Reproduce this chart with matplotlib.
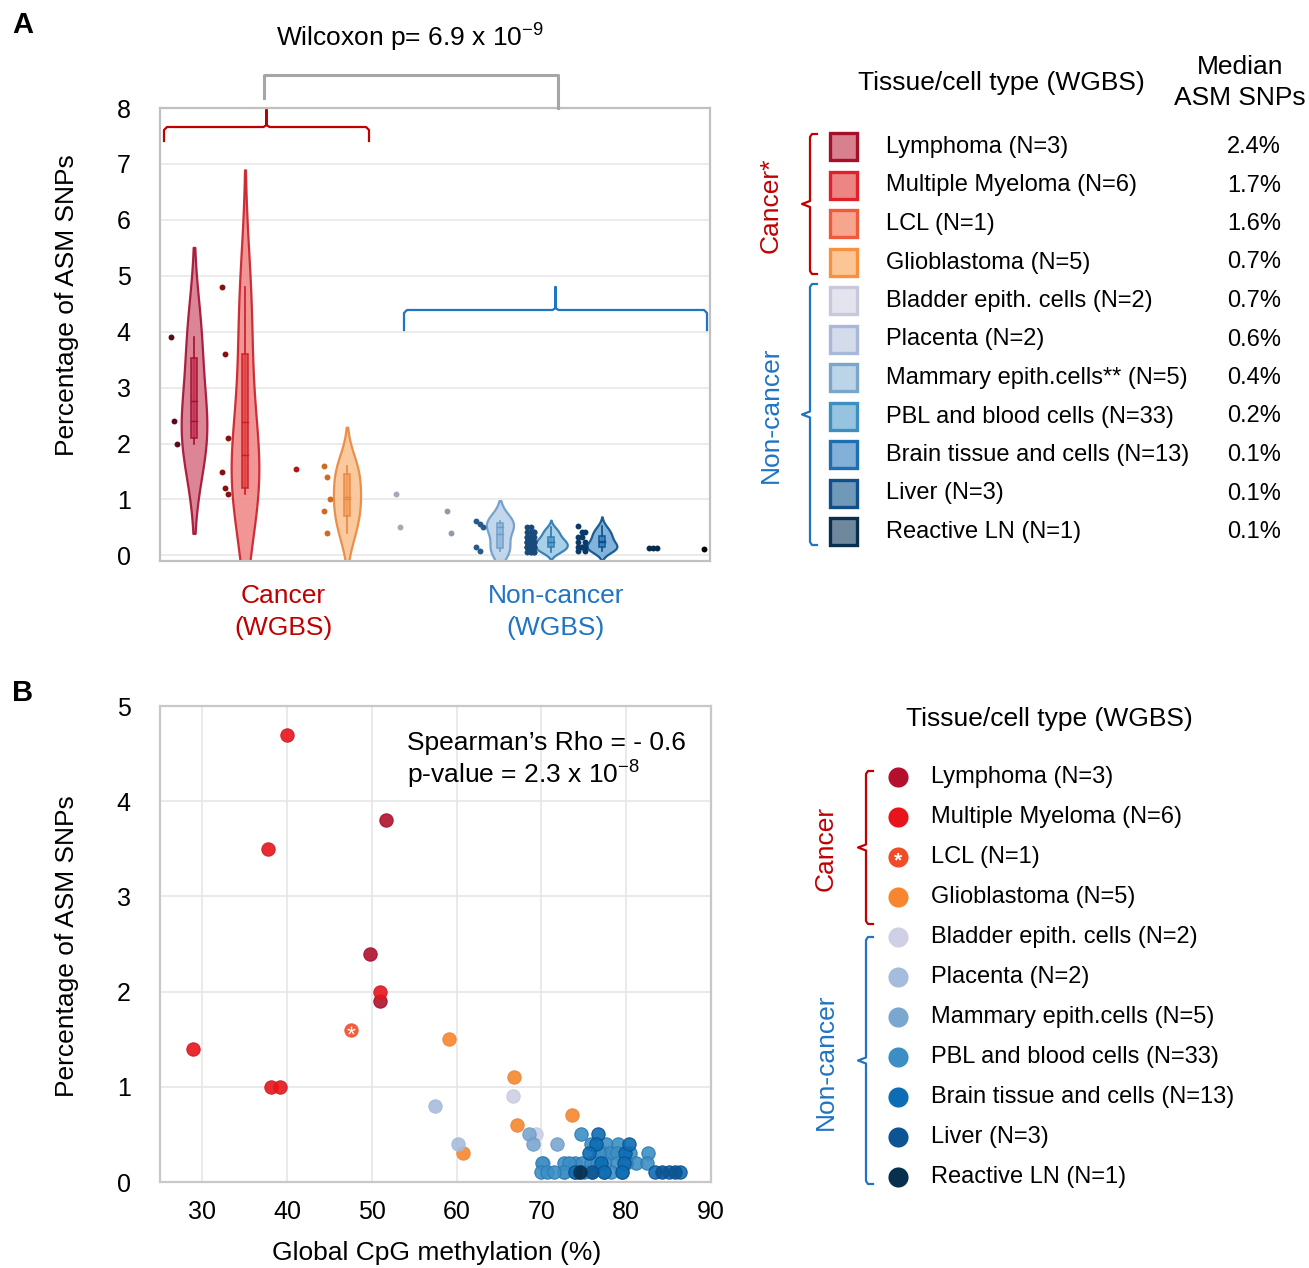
import numpy as np
import matplotlib
matplotlib.use("Agg")
import matplotlib.pyplot as plt
from matplotlib.patches import Rectangle

plt.rcParams["font.family"] = ["Liberation Sans", "DejaVu Sans"]
plt.rcParams["mathtext.fontset"] = "custom"
plt.rcParams["mathtext.rm"] = "Liberation Sans"
plt.rcParams["mathtext.default"] = "regular"

W, H = 1309, 1268

# ---- data -----------------------------------------------------------------
groups = ["Lymphoma", "Multiple Myeloma", "LCL", "Glioblastoma",
          "Bladder epith. cells", "Placenta", "Mammary epith.cells",
          "PBL and blood cells", "Brain tissue and cells", "Liver", "Reactive LN"]
n_samples = [3, 6, 1, 5, 2, 2, 5, 33, 13, 3, 1]
median_asm = ["2.4%", "1.7%", "1.6%", "0.7%", "0.7%", "0.6%", "0.4%",
              "0.2%", "0.1%", "0.1%", "0.1%"]

# panel A: % ASM SNPs per sample
asm_lymphoma = [3.9, 2.4, 2.0]
asm_myeloma = [4.8, 3.6, 2.1, 1.5, 1.2, 1.1]
asm_lcl = [1.55]
asm_glio = [1.6, 1.4, 1.0, 0.8, 0.4]
asm_bladder = [1.1, 0.5]
asm_placenta = [0.8, 0.4]
asm_mammary = [0.62, 0.56, 0.5, 0.15, 0.08]
asm_pbl = [0.5, 0.5, 0.42, 0.42, 0.42, 0.42, 0.33, 0.33, 0.33, 0.33, 0.33,
           0.24, 0.24, 0.24, 0.24, 0.24, 0.24, 0.24, 0.24,
           0.15, 0.15, 0.15, 0.15, 0.15, 0.15, 0.15, 0.15, 0.15,
           0.06, 0.06, 0.06, 0.06, 0.06]
asm_brain = [0.52, 0.42, 0.42, 0.33, 0.33, 0.24, 0.24, 0.15, 0.15, 0.15, 0.15, 0.08, 0.08]
asm_liver = [0.13, 0.13, 0.13]
asm_reactive = [0.11]

# panel B: global CpG methylation (%) vs % ASM SNPs
meth_lymphoma = [51.7, 49.8, 51.0]
pct_lymphoma = [3.8, 2.4, 1.9]
meth_myeloma = [40.0, 37.7, 50.9, 28.9, 38.1, 39.1]
pct_myeloma = [4.7, 3.5, 2.0, 1.4, 1.0, 1.0]
meth_lcl = [47.5]
pct_lcl = [1.6]
meth_glio = [59.1, 66.8, 67.1, 73.6, 60.8]
pct_glio = [1.5, 1.1, 0.6, 0.7, 0.3]
meth_bladder = [66.6, 69.4]
pct_bladder = [0.9, 0.5]
meth_placenta = [57.4, 60.2]
pct_placenta = [0.8, 0.4]
meth_mammary = [68.5, 69.0, 71.8, 70.2, 72.7]
pct_mammary = [0.5, 0.4, 0.4, 0.2, 0.1]
meth_pbl = [74.7, 75.9, 77.6, 79.0, 77.3, 78.1, 78.9, 82.6, 80.5, 76.8,
            70.1, 72.7, 74.0, 74.8, 75.8, 77.5, 78.9, 81.1, 82.5, 73.2, 76.5, 80.0,
            69.9, 70.7, 72.7, 73.9, 75.0, 76.0, 77.4, 79.5, 71.5, 74.4, 78.2]
pct_pbl = [0.5, 0.4, 0.4, 0.4, 0.3, 0.3, 0.3, 0.3, 0.3, 0.3,
           0.2, 0.2, 0.2, 0.2, 0.2, 0.2, 0.2, 0.2, 0.2, 0.2, 0.2, 0.2,
           0.1, 0.1, 0.1, 0.1, 0.1, 0.1, 0.1, 0.1, 0.1, 0.1, 0.1]
meth_brain = [76.7, 76.4, 79.9, 75.6, 79.7, 77.0, 83.4, 85.0, 86.4, 79.5, 77.4, 73.9, 80.3]
pct_brain = [0.5, 0.4, 0.3, 0.3, 0.2, 0.2, 0.1, 0.1, 0.1, 0.1, 0.1, 0.1, 0.4]
meth_liver = [84.2, 85.8, 76.0]
pct_liver = [0.1, 0.1, 0.1]
meth_reactive = [74.6]
pct_reactive = [0.1]

asm_a = [asm_lymphoma, asm_myeloma, asm_lcl, asm_glio, asm_bladder, asm_placenta,
         asm_mammary, asm_pbl, asm_brain, asm_liver, asm_reactive]
meth_b = [meth_lymphoma, meth_myeloma, meth_lcl, meth_glio, meth_bladder, meth_placenta,
          meth_mammary, meth_pbl, meth_brain, meth_liver, meth_reactive]
pct_b = [pct_lymphoma, pct_myeloma, pct_lcl, pct_glio, pct_bladder, pct_placenta,
         pct_mammary, pct_pbl, pct_brain, pct_liver, pct_reactive]

# ---- styles ---------------------------------------------------------------
RED, BLUE = "#c00000", "#1f74c4"
vio_fill = ["#d9788c", "#f08a8a", "#f8a590", "#fac394", "#e4e4ef", "#d4dcec",
            "#bcd3ea", "#9fcbe5", "#74abd6", "#7098b8", "#70889e"]
vio_edge = ["#a01030", "#c81e28", "#f05a3a", "#e8873e", "#c8c8dc", "#a8b8d8",
            "#6b9bc8", "#2d78b0", "#0b4f8c", "#10508a", "#08304e"]
box_fill = ["#c83a58", "#e84848", "#f07050", "#f5a060", "#c8c8dc", "#a8b8d8",
            "#94bade", "#5aa0d0", "#3a86c4", "#10508a", "#08304e"]
dot_col = ["#5a0a18", "#8a1010", "#b01818", "#d06a20", "#a8a8b8", "#909aac",
           "#2a5a8a", "#1a4a7a", "#0a3a6a", "#0a2a4a", "#000000"]
sq_fill = ["#d9808f", "#ee8585", "#f8a590", "#fcc595", "#e4e4ef", "#d4dcec",
           "#bcd4e8", "#96c4e0", "#82b0d8", "#7098b8", "#70889e"]
sq_edge = ["#a50f28", "#e0202a", "#f05a3a", "#f89040", "#c8c8dc", "#a8b8d8",
           "#7aa6cc", "#3d8fc0", "#1f6fb0", "#10508a", "#08304e"]
pt_col = ["#b2102c", "#e8141c", "#f04c28", "#f7862e", "#cfcfe6", "#a6bcdd",
          "#7aa7cf", "#3b8fc5", "#0c6db4", "#0c5494", "#072f4e"]

FS = 17      # legend entries
FL = 19      # labels, headers
FT = 18      # tick labels

fig = plt.figure(figsize=(W / 100, H / 100), dpi=100)
fig.patch.set_facecolor("white")


def px_axes(l, t, r, b):
    return fig.add_axes([l / W, 1 - b / H, (r - l) / W, (b - t) / H])


def kde(vals):
    v = np.asarray(vals, float)
    bw = v.std(ddof=1) * len(v) ** (-1 / 5)
    grid = np.linspace(v.min() - 2 * bw, v.max() + 2 * bw, 300)
    dens = np.exp(-0.5 * ((grid[:, None] - v[None, :]) / bw) ** 2).sum(1)
    return grid, dens / dens.max()


# ---- panel A --------------------------------------------------------------
axA = px_axes(160, 108, 710, 561)
axA.set_xlim(-0.667, 10.12)
axA.set_ylim(-0.1, 8)
axA.set_yticks(range(0, 9))
axA.set_xticks([])
axA.yaxis.grid(True, color="#e8e8e8", lw=1.2)
axA.set_axisbelow(True)
axA.tick_params(axis="y", length=0, pad=21, labelsize=FT)
for s in axA.spines.values():
    s.set_color("#c0c0c0")
    s.set_linewidth(1.6)

for i, vals in enumerate(asm_a):
    v = np.asarray(vals, float)
    has_violin = len(v) >= 3 and v.std() > 0
    if has_violin:
        g, d = kde(v)
        hw = (0.22 + 0.02 * np.log2(len(v))) * d
        axA.fill_betweenx(g, i - hw, i + hw, facecolor=vio_fill[i], edgecolor=vio_edge[i],
                          lw=1.6, alpha=0.9, zorder=2)
        q1, med, q3 = np.percentile(v, [25, 50, 75], method="hazen")
        axA.plot([i, i], [v.min(), v.max()], color=vio_edge[i], lw=1.2, zorder=3)
        axA.add_patch(Rectangle((i - 0.065, q1), 0.13, q3 - q1, facecolor=box_fill[i],
                                edgecolor=vio_edge[i], lw=1.2, alpha=0.85, zorder=4))
        axA.plot([i - 0.065, i + 0.065], [med, med], color=vio_edge[i], lw=1.0, zorder=5)
        axA.plot([i - 0.065, i + 0.065], [v.mean()] * 2, color=vio_edge[i], lw=1.0, zorder=5)
        xs = i - 0.4 + 0.06 * (np.arange(len(v)) % 3 - 1)
    else:
        xs = i + 0.08 * (np.arange(len(v)) - (len(v) - 1) / 2)
    axA.scatter(xs, v, s=18, color=dot_col[i], zorder=6, lw=0)

# ---- panel B --------------------------------------------------------------
axB = px_axes(160, 706, 711, 1182)
axB.set_xlim(25, 90)
axB.set_ylim(0.02, 5.0)
axB.set_xticks(range(30, 91, 10))
axB.set_yticks(range(0, 6))
axB.grid(True, color="#e6e6e6", lw=1.2)
axB.set_axisbelow(True)
axB.tick_params(axis="y", length=0, pad=21, labelsize=FT)
axB.tick_params(axis="x", length=0, pad=13, labelsize=FT)
for s in axB.spines.values():
    s.set_color("#c8c8c8")
    s.set_linewidth(1.6)

for i in range(len(groups)):
    axB.scatter(meth_b[i], pct_b[i], s=92, color=pt_col[i], alpha=0.9,
                edgecolors=vio_edge[i], linewidths=0.8, zorder=3 + i * 0.01)
axB.scatter(meth_lcl, pct_lcl, s=34, marker="$*$", color="white", lw=0, zorder=4)

# ---- overlay (pixel coords) ----------------------------------------------
ov = fig.add_axes([0, 0, 1, 1])
ov.set_xlim(0, W)
ov.set_ylim(H, 0)
ov.axis("off")

ov.text(12, 25, "A", fontsize=21, fontweight="bold", va="center")
ov.text(12, 693, "B", fontsize=21, fontweight="bold", va="center")

ov.text(67, 305, "Percentage of ASM SNPs", fontsize=FL, rotation=90, ha="center", va="center")
ov.text(67, 946, "Percentage of ASM SNPs", fontsize=FL, rotation=90, ha="center", va="center")
ov.text(437, 1253, "Global CpG methylation (%)", fontsize=FL, ha="center", va="center")
ov.text(407, 743, "Spearman\u2019s Rho = - 0.6", fontsize=FL, ha="left", va="center")
ov.text(407, 775, "p-value = 2.3 x 10$^{-8}$", fontsize=FL, ha="left", va="center")

ov.text(410, 38, "Wilcoxon p= 6.9 x 10$^{-9}$", fontsize=FL, ha="center", va="center")
ov.plot([264, 264, 558, 558], [98, 75, 75, 108], color="#a6a6a6", lw=2.2)


def hbrace(x0, x1, y, color, foot=14, notch=17):
    xm = (x0 + x1) / 2
    ov.plot([x0, x0, x0 + 3, xm - 3, xm, xm, xm, xm + 3, x1 - 3, x1, x1],
            [y + foot, y + 3, y, y, y - 2, y - notch, y - 2, y, y, y + 3, y + foot],
            color=color, lw=1.6)


def vbrace(x, y0, y1, color, arm=7, notch=8):
    ym = (y0 + y1) / 2
    ov.plot([x + arm, x + 2, x, x, x - notch, x, x, x + 2, x + arm],
            [y0, y0, y0 + 3, ym - 3, ym, ym + 3, y1 - 3, y1, y1],
            color=color, lw=1.6)


hbrace(164, 369, 127, RED)
hbrace(404, 707, 310, BLUE, foot=20, notch=23)

for x, lab, col in [(283, "Cancer", RED), (556, "Non-cancer", BLUE)]:
    ov.text(x, 596, lab, fontsize=FL, color=col, ha="center", va="center")
    ov.text(x, 628, "(WGBS)", fontsize=FL, color=col, ha="center", va="center")

# legend A
ov.text(1001, 83, "Tissue/cell type (WGBS)", fontsize=FL, ha="center", va="center")
ov.text(1240, 67, "Median", fontsize=FL, ha="center", va="center")
ov.text(1240, 98, "ASM SNPs", fontsize=FL, ha="center", va="center")
vbrace(810, 134, 274, RED)
vbrace(810, 284, 545, BLUE)
ov.text(771, 205, "Cancer*", fontsize=FL, color=RED, rotation=90, ha="center", va="center")
ov.text(771, 415, "Non-cancer", fontsize=FL, color=BLUE, rotation=90, ha="center", va="center")
labels_a = [f"{g} (N={n})" for g, n in zip(groups, n_samples)]
labels_a[6] = "Mammary epith.cells** (N=5)"
for k, lab in enumerate(labels_a):
    y = 146 + 38.5 * k
    ov.add_patch(Rectangle((830, y - 13), 27, 27, facecolor=sq_fill[k], edgecolor=sq_edge[k],
                           lw=2.4))
    ov.text(886, y + 1, lab, fontsize=FS, va="center", ha="left")
    ov.text(1281, y + 1, median_asm[k], fontsize=FS, va="center", ha="right")

# legend B
ov.text(1049, 719, "Tissue/cell type (WGBS)", fontsize=FL, ha="center", va="center")
vbrace(866, 771, 924, RED)
vbrace(866, 937, 1184, BLUE)
ov.text(826, 848, "Cancer", fontsize=FL, color=RED, rotation=90, ha="center", va="center")
ov.text(826, 1062, "Non-cancer", fontsize=FL, color=BLUE, rotation=90, ha="center", va="center")
labels_b = [f"{g} (N={n})" for g, n in zip(groups, n_samples)]
for k, lab in enumerate(labels_b):
    y = 777 + 40 * k
    ov.scatter([898], [y], s=210, color=pt_col[k], lw=0)
    ov.text(931, y, lab, fontsize=FS, va="center", ha="left")
ov.text(898, 861, "*", fontsize=15, color="white", fontweight="bold", ha="center", va="center")

fig.savefig("out.png", dpi=100, facecolor="white")
